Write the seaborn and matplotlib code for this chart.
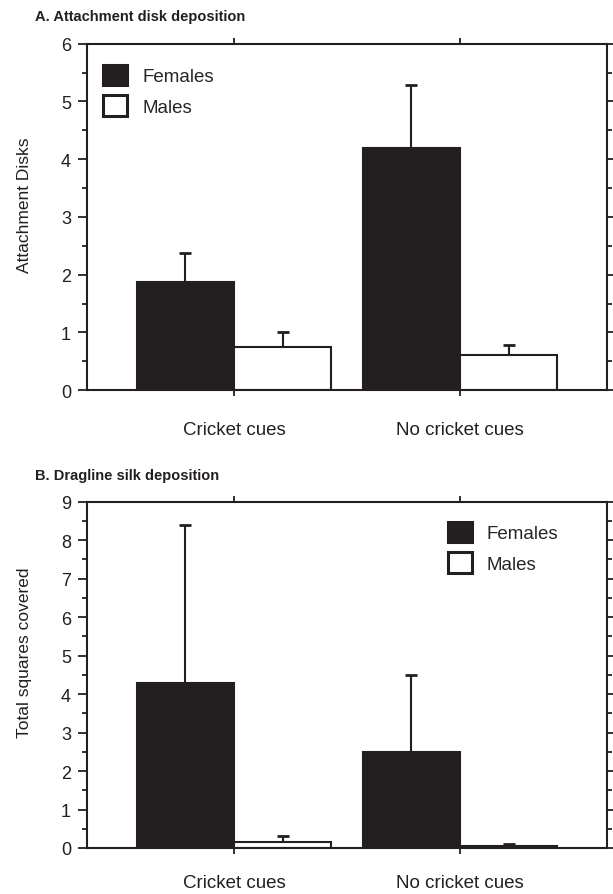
import numpy as np
import pandas as pd
import matplotlib
matplotlib.use("Agg")
import matplotlib.pyplot as plt
import seaborn as sns
from matplotlib.ticker import MultipleLocator

cues = ['Cricket cues', 'No cricket cues']
sexes = ['Females', 'Males']

# panel A: attachment disks (mean, upper error)
disk_f = [1.88, 4.20]
disk_m = [0.75, 0.60]
disk_f_err = [0.50, 1.08]
disk_m_err = [0.25, 0.18]

# panel B: dragline silk (mean, upper error)
silk_f = [4.28, 2.50]
silk_m = [0.15, 0.05]
silk_f_err = [4.10, 2.00]
silk_m_err = [0.15, 0.05]

sns.set_style('ticks')
plt.rcParams['font.family'] = ['Liberation Sans', 'DejaVu Sans']

dark = '#231f20'
pal = {'Females': dark, 'Males': 'white'}

fig = plt.figure(figsize=(6.13, 8.95), dpi=100)
axA = fig.add_axes([0.142, 0.563, 0.848, 0.387])
axB = fig.add_axes([0.142, 0.0514, 0.848, 0.387])


def panel(ax, f, m, f_err, m_err, ymax, ylabel, ylab_y, title, title_y, leg_xy, xpad):
    df = pd.DataFrame({'cue': cues * 2,
                       'sex': ['Females'] * 2 + ['Males'] * 2,
                       'value': f + m})
    sns.barplot(data=df, x='cue', y='value', hue='sex', order=cues, hue_order=sexes,
                palette=pal, edgecolor=dark, linewidth=1.5, width=0.86,
                saturation=1, ax=ax, errorbar=None)
    errs = [f_err, m_err]
    for cont, e in zip(ax.containers, errs):
        xs = [b.get_x() + b.get_width() / 2 for b in cont]
        ys = [b.get_height() for b in cont]
        _, caps, _ = ax.errorbar(xs, ys, yerr=[np.zeros(len(e)), e], fmt='none',
                                 ecolor=dark, elinewidth=1.5, capsize=4.5,
                                 capthick=2, zorder=1)
        caps[0].set_visible(False)  # only the upper cap
    ax.set_xlim(-0.65, 1.65)
    ax.set_ylim(0, ymax)
    ax.yaxis.set_major_locator(MultipleLocator(1))
    ax.yaxis.set_minor_locator(MultipleLocator(0.5))
    ax.tick_params(axis='both', which='both', direction='out', width=1.3,
                   top=True, right=True, color=dark, labelcolor=dark)
    ax.tick_params(axis='y', which='major', length=6.5, pad=5, labelsize=13)
    ax.tick_params(axis='y', which='minor', length=3.5)
    ax.tick_params(axis='x', which='major', length=4, pad=xpad, labelsize=13.5)
    for s in ax.spines.values():
        s.set_linewidth(1.5)
        s.set_color(dark)
    ax.set_xlabel('')
    ax.set_ylabel(ylabel, fontsize=12.5, color=dark)
    ax.yaxis.set_label_coords(-0.106, ylab_y)
    handles, labels = ax.get_legend_handles_labels()
    leg = ax.legend(handles, labels, loc='upper left', bbox_to_anchor=leg_xy,
                    frameon=False, fontsize=13.5, handlelength=1.28,
                    handleheight=1.28, handletextpad=0.8, labelspacing=0.55,
                    borderaxespad=0, borderpad=0)
    for h in leg.legend_handles:
        h.set_linewidth(2.2)
    fig.text(0.057, title_y, title, fontsize=10.5, fontweight='bold',
             va='center', color=dark)


panel(axA, disk_f, disk_m, disk_f_err, disk_m_err, 6, 'Attachment Disks', 0.538,
      'A. Attachment disk deposition', 1 - 17 / 895, (16 / 520, 1 - 21 / 346), 18)
panel(axB, silk_f, silk_m, silk_f_err, silk_m_err, 9, 'Total squares covered', 0.566,
      'B. Dragline silk deposition', 1 - 476 / 895, (361 / 520, 1 - 20 / 346), 15)

fig.savefig('out.png', dpi=100)
